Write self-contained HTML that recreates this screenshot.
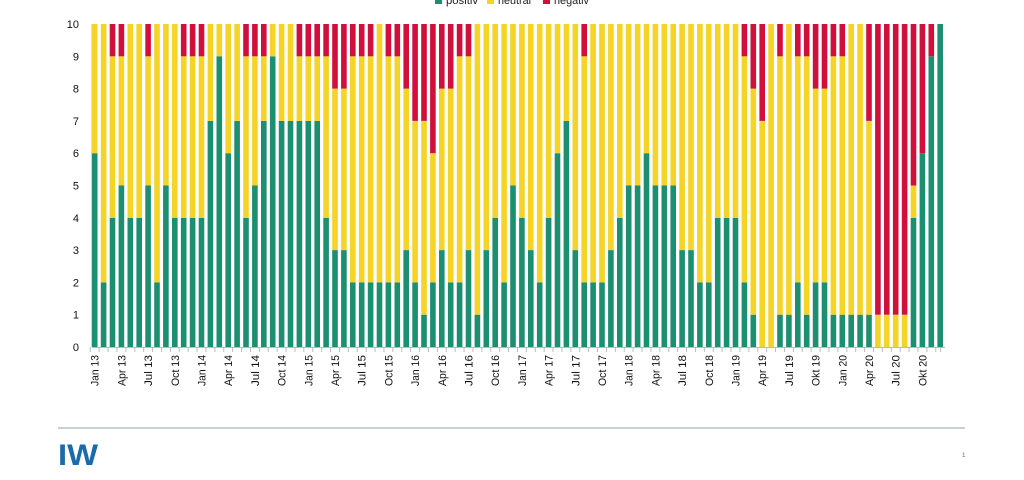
<!DOCTYPE html>
<html><head><meta charset="utf-8"><style>
html,body{margin:0;padding:0;background:#fff;width:1024px;height:480px;overflow:hidden}
svg{display:block}
text{font-family:"Liberation Sans",sans-serif}
</style></head><body>
<svg id="c" width="1024" height="480" xmlns="http://www.w3.org/2000/svg">
<line x1="58" y1="428" x2="965" y2="428" stroke="#c8d0d4" stroke-width="2"/>
<text x="58" y="465" font-size="30" font-weight="bold" fill="#1a6aad" transform="translate(58,0) scale(1,1) translate(-58,0)" textLength="40" lengthAdjust="spacingAndGlyphs">IW</text>
<text x="962" y="457" font-size="6" fill="#666">1</text>
<line x1="92" y1="24" x2="92" y2="347" stroke="#bbb" stroke-width="1"/>
<line x1="92" y1="347.5" x2="945" y2="347.5" stroke="#bbb" stroke-width="1"/>
<rect x="435" y="-3" width="7" height="7" fill="#1b8f6f"/>
<text x="446" y="4" font-size="11" fill="#222" textLength="32" lengthAdjust="spacingAndGlyphs">positiv</text>
<rect x="487" y="-3" width="7" height="7" fill="#f5d327"/>
<text x="498" y="4" font-size="11" fill="#222" textLength="33" lengthAdjust="spacingAndGlyphs">neutral</text>
<rect x="543" y="-3" width="7" height="7" fill="#d0103a"/>
<text x="554" y="4" font-size="11" fill="#222" textLength="35" lengthAdjust="spacingAndGlyphs">negativ</text>
<g id="g"></g>
</svg>
<script>
var d=[[6,4,0],[2,8,0],[4,5,1],[5,4,1],[4,6,0],[4,6,0],[5,4,1],[2,8,0],[5,5,0],[4,6,0],[4,5,1],[4,5,1],
[4,5,1],[7,3,0],[9,1,0],[6,4,0],[7,3,0],[4,5,1],[5,4,1],[7,2,1],[9,1,0],[7,3,0],[7,3,0],[7,2,1],
[7,2,1],[7,2,1],[4,5,1],[3,5,2],[3,5,2],[2,7,1],[2,7,1],[2,7,1],[2,8,0],[2,7,1],[2,7,1],[3,5,2],
[2,5,3],[1,6,3],[2,4,4],[3,5,2],[2,6,2],[2,7,1],[3,6,1],[1,9,0],[3,7,0],[4,6,0],[2,8,0],[5,5,0],
[4,6,0],[3,7,0],[2,8,0],[4,6,0],[6,4,0],[7,3,0],[3,7,0],[2,7,1],[2,8,0],[2,8,0],[3,7,0],[4,6,0],
[5,5,0],[5,5,0],[6,4,0],[5,5,0],[5,5,0],[5,5,0],[3,7,0],[3,7,0],[2,8,0],[2,8,0],[4,6,0],[4,6,0],
[4,6,0],[2,7,1],[1,7,2],[0,7,3],[0,10,0],[1,8,1],[1,9,0],[2,7,1],[1,8,1],[2,6,2],[2,6,2],[1,8,1],
[1,8,1],[1,9,0],[1,9,0],[1,6,3],[0,1,9],[0,1,9],[0,1,9],[0,1,9],[4,1,5],[6,0,4],[9,0,1],[10,0,0]];
var labs=["Jan 13","Apr 13","Jul 13","Oct 13","Jan 14","Apr 14","Jul 14","Oct 14","Jan 15","Apr 15","Jul 15","Oct 15","Jan 16","Apr 16","Jul 16","Oct 16","Jan 17","Apr 17","Jul 17","Oct 17","Jan 18","Apr 18","Jul 18","Oct 18","Jan 19","Apr 19","Jul 19","Okt 19","Jan 20","Apr 20","Jul 20","Okt 20"];
var cols=["#1b8f6f","#f5d327","#d0103a"],s="",u=32.3,y0=347,w=5.6;
for(var i=0;i<96;i++){var cx=94.7+i*8.9,acc=0;
for(var k=0;k<3;k++){var v=d[i][k];if(v>0){s+='<rect x="'+(cx-w/2).toFixed(2)+'" y="'+(y0-(acc+v)*u).toFixed(2)+'" width="'+w+'" height="'+(v*u).toFixed(2)+'" fill="'+cols[k]+'"/>';acc+=v;}}
var tx=cx-4.45;s+='<line x1="'+tx+'" y1="347" x2="'+tx+'" y2="352" stroke="#bbb"/>';}
s+='<line x1="940.6" y1="347" x2="940.6" y2="352" stroke="#bbb"/>';
for(var j=0;j<32;j++){var x=94.7+j*3*8.9+4;s+='<text transform="translate('+x.toFixed(1)+',355) rotate(-90)" text-anchor="end" font-size="11" fill="#111" textLength="'+(labs[j].length>5?31:27)+'" lengthAdjust="spacingAndGlyphs">'+labs[j]+'</text>';}
for(var t=0;t<=10;t++){s+='<text x="79" y="'+(y0-t*u+4).toFixed(1)+'" text-anchor="end" font-size="11" fill="#111">'+t+'</text>';}
document.getElementById("g").innerHTML=s;
</script>
</body></html>
